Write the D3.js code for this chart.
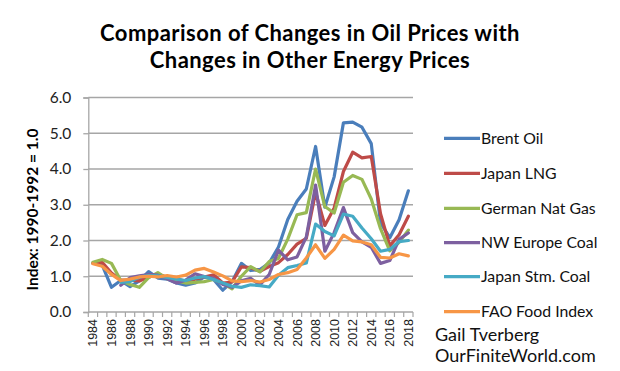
<!DOCTYPE html>
<html><head><meta charset="utf-8">
<script src="https://cdn.jsdelivr.net/npm/d3@7/dist/d3.min.js"></script>
<style>body{margin:0;background:#fff}svg{display:block}</style>
</head><body><svg id="c" width="620" height="371"></svg>
<script>
const years = d3.range(1984, 2019);
const brentOil = [1.37,1.31,0.69,0.88,0.71,0.87,1.13,0.95,0.92,0.81,0.75,0.81,0.98,0.91,0.61,0.85,1.36,1.16,1.19,1.37,1.82,2.59,3.10,3.44,4.63,2.93,3.78,5.29,5.31,5.17,4.71,2.49,2.08,2.58,3.39];
const japanLNG = [1.36,1.39,1.09,0.89,0.89,0.87,0.97,1.06,0.97,0.94,0.85,0.92,0.98,1.04,0.81,0.84,1.26,1.24,1.14,1.27,1.38,1.61,1.90,2.06,3.35,2.42,2.91,3.93,4.47,4.31,4.35,2.75,1.85,2.16,2.68];
const germanNatGas = [1.39,1.47,1.36,0.88,0.77,0.69,0.96,1.10,0.93,0.87,0.81,0.83,0.85,0.91,0.80,0.65,1.00,1.27,1.12,1.41,1.50,2.04,2.72,2.78,4.00,2.95,2.77,3.63,3.82,3.71,3.16,2.33,1.71,1.95,2.29];
const nwEuropeCoal = [null,null,null,0.75,0.96,1.01,1.05,1.03,0.93,0.81,0.89,1.07,0.99,0.94,0.77,0.69,0.87,0.94,0.76,1.05,1.73,1.46,1.54,2.10,3.55,1.70,2.22,2.92,2.22,1.96,1.81,1.36,1.44,2.03,2.21];
const japanStmCoal = [null,null,null,0.83,0.85,0.98,1.02,1.01,0.97,0.92,0.88,0.95,0.99,0.91,0.81,0.72,0.69,0.76,0.74,0.70,1.03,1.24,1.30,1.37,2.46,2.25,2.13,2.74,2.68,2.35,2.05,1.70,1.75,1.97,2.00];
const faoFoodIndex = [1.35,1.28,1.05,0.88,0.92,0.98,1.00,0.98,1.02,0.98,1.03,1.17,1.22,1.12,1.01,0.87,0.85,0.88,0.84,0.91,1.05,1.10,1.19,1.51,1.88,1.50,1.75,2.15,1.99,1.96,1.88,1.53,1.51,1.63,1.57];
const seriesNames = ["Brent Oil","Japan LNG","German Nat Gas","NW Europe Coal","Japan Stm. Coal","FAO Food Index"];
const seriesColors = ["#4a7ebb","#be4b48","#98b954","#7d60a0","#46aac5","#f79646"];
const yTicks = [0,1,2,3,4,5,6];
const xLabelYears = years.filter(y => (y - 1984) % 2 === 0);
const titleLines = ["Comparison of Changes in Oil Prices with","Changes in Other Energy Prices"];
const yTitle = "Index: 1990-1992 = 1.0";
const credit = ["Gail Tverberg","OurFiniteWorld.com"];

const allSeries = [brentOil, japanLNG, germanNatGas, nwEuropeCoal, japanStmCoal, faoFoodIndex];
const svg = d3.select("#c");
const L = 88.3, R = 413, T = 97.5, B = 312;
const x = d3.scaleBand().domain(years).range([L, R]).padding(0);
const y = d3.scaleLinear().domain([0, 6]).range([B, T]);
const cx = yr => x(yr) + x.bandwidth() / 2;
const gridColor = "#a6a6a6";

// gridlines
svg.append("g").selectAll("line").data(yTicks.filter(d => d > 0)).join("line")
  .attr("x1", L).attr("x2", R).attr("y1", d => y(d)).attr("y2", d => y(d))
  .attr("stroke", gridColor).attr("stroke-width", 1.3);

// y axis
const ya = svg.append("g").attr("transform", `translate(${L},0)`)
  .call(d3.axisLeft(y).tickValues(yTicks).tickFormat(d3.format(".1f")).tickSize(5).tickPadding(12));
ya.select(".domain").attr("stroke", gridColor).attr("stroke-width", 1.3);
ya.selectAll(".tick line").attr("stroke", gridColor).attr("stroke-width", 1.3);
ya.selectAll(".tick text").attr("font-family", "Lato, sans-serif").attr("font-size", 15.5).attr("fill", "#222");

// x axis
svg.append("line").attr("x1", L).attr("x2", R).attr("y1", B).attr("y2", B)
  .attr("stroke", gridColor).attr("stroke-width", 1.3);
const edges = years.map(yr => x(yr)).concat([R]);
svg.append("g").selectAll("line").data(edges).join("line")
  .attr("x1", d => d).attr("x2", d => d).attr("y1", B).attr("y2", B + 5)
  .attr("stroke", gridColor).attr("stroke-width", 1.2);
svg.append("g").selectAll("text").data(xLabelYears).join("text")
  .attr("transform", d => `translate(${cx(d) + 4.5},${B + 7}) rotate(-90)`)
  .attr("text-anchor", "end")
  .attr("font-family", "'Liberation Sans', Arial, sans-serif").attr("font-size", 12.5).attr("fill", "#222")
  .text(d => d);

// lines
const line = d3.line().defined(d => d[1] != null).x(d => cx(d[0])).y(d => y(d[1]));
allSeries.forEach((s, i) => {
  svg.append("path").datum(years.map((yr, j) => [yr, s[j]]))
    .attr("d", line).attr("fill", "none").attr("stroke", seriesColors[i])
    .attr("stroke-width", 3.2).attr("stroke-linejoin", "round").attr("stroke-linecap", "round");
});

// legend
const legY = [138.3, 173.3, 208.3, 242.7, 276.7, 311.7];
seriesNames.forEach((n, i) => {
  svg.append("line").attr("x1", 444).attr("x2", 480).attr("y1", legY[i]).attr("y2", legY[i])
    .attr("stroke", seriesColors[i]).attr("stroke-width", 3.2);
  svg.append("text").attr("x", 481).attr("y", legY[i] + 5.5)
    .attr("font-family", "Lato, sans-serif").attr("font-size", 15.8).attr("fill", "#111").text(n);
});
credit.forEach((t, i) => {
  svg.append("text").attr("x", 435).attr("y", 341 + i * 21)
    .attr("font-family", "Lato, sans-serif").attr("font-size", 18).attr("fill", "#111").text(t);
});

// titles
titleLines.forEach((t, i) => {
  svg.append("text").attr("x", 310).attr("y", 41 + i * 26.5).attr("text-anchor", "middle")
    .attr("font-family", "Lato, sans-serif").attr("font-weight", "bold").attr("font-size", 22)
    .attr("letter-spacing", 0.45).attr("fill", "#000").text(t);
});
svg.append("text").attr("transform", "translate(38,209.5) rotate(-90)").attr("text-anchor", "middle")
  .attr("font-family", "Lato, sans-serif").attr("font-weight", "bold").attr("font-size", 15.5).attr("fill", "#000").text(yTitle);
</script></body></html>
